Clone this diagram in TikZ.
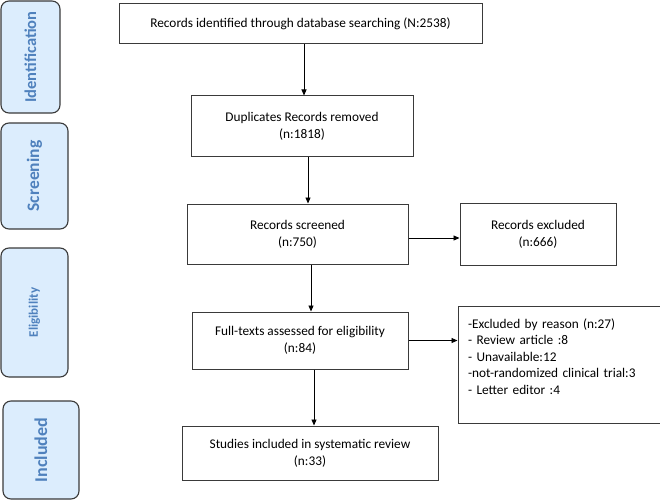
\documentclass[tikz,border=0pt]{standalone}
\usepackage{fontspec}
\setmainfont{Carlito}
\usetikzlibrary{positioning, arrows.meta}
\definecolor{phasefill}{HTML}{DCEDFD}
\definecolor{phasetext}{HTML}{4F81BD}
\definecolor{boxline}{HTML}{3A3A3A}

\begin{document}
\begin{tikzpicture}[
        x=1pt, y=1pt,
        flow/.style={rectangle, draw=boxline, line width=1pt, fill=white,
                     align=center, font=\fontsize{13.3}{17}\selectfont, inner sep=2pt},
        phase/.style={rectangle, draw=boxline, line width=1.1pt, fill=phasefill,
                      text=phasetext, rounded corners=8pt, rotate=90,
                      font=\bfseries\fontsize{16.5}{18}\selectfont},
        arrow/.style={-{Triangle[length=6pt, width=5pt]}, line width=0.9pt, black}
      ]
        \useasboundingbox (0,0) rectangle (660,-500);

        % phases on the left
        \node[phase, minimum width=112, minimum height=59] (ident) at (30.5,-57) {Identification};
        \node[phase, minimum width=106, minimum height=67, font=\bfseries\fontsize{17.5}{18}\selectfont] (screen) at (34.5,-176) {Screening};
        \node[phase, minimum width=129, minimum height=67, font=\bfseries\fontsize{13}{15}\selectfont] (elig) at (34.5,-312.5) {Eligibility};
        \node[phase, minimum width=98, minimum height=76, font=\bfseries\fontsize{18}{20}\selectfont] (incl) at (41,-450) {Included};

        % main flow
        \node[flow, minimum width=363, minimum height=40] (found) at (300.5,-24) {Records identified through database searching (N:2538)};
        \node[flow, minimum width=222, minimum height=60, below=51 of found, xshift=1.5] (dupl) {Duplicates Records removed\\(n:1818)};
        \node[flow, minimum width=221, minimum height=60, below=47 of dupl, xshift=-4.5] (screened) {Records screened\\(n:750)};
        \node[flow, minimum width=216, minimum height=57, below=47 of screened, xshift=2.5] (full) {Full-texts assessed for eligibility\\(n:84)};
        \node[flow, minimum width=256, minimum height=54, below=56 of full, xshift=10] (studies) {Studies included in systematic review\\(n:33)};

        % exclusions on the right
        \node[flow, minimum width=156, minimum height=62, right=51 of screened] (excl) {Records excluded\\(n:666)};
        \node[flow, minimum width=202, minimum height=117, text width=182, align=left,
              font=\fontsize{13.3}{16.5}\selectfont, right=49 of full, yshift=-24] (reasons)
              {-Excluded by reason (n:27)\\- Review article :8\\- Unavailable:12\\-not-randomized clinical trial:3\\- Letter editor :4\\ \mbox{}};

        \draw[arrow] ([xshift=3.5]found.south) -- ([xshift=3.5]found.south |- dupl.north);
        \draw[arrow] ([xshift=6]dupl.south) -- ([xshift=6]dupl.south |- screened.north);
        \draw[arrow] ([xshift=13.5]screened.south) -- ([xshift=13.5]screened.south |- full.north);
        \draw[arrow] ([xshift=14]full.south) -- ([xshift=14]full.south |- studies.north);
        \draw[arrow] ([yshift=-4]screened.east) -- ([yshift=-4]screened.east -| excl.west);
        \draw[arrow] (full.east) -- (full.east -| reasons.west);
      \end{tikzpicture}
\end{document}
